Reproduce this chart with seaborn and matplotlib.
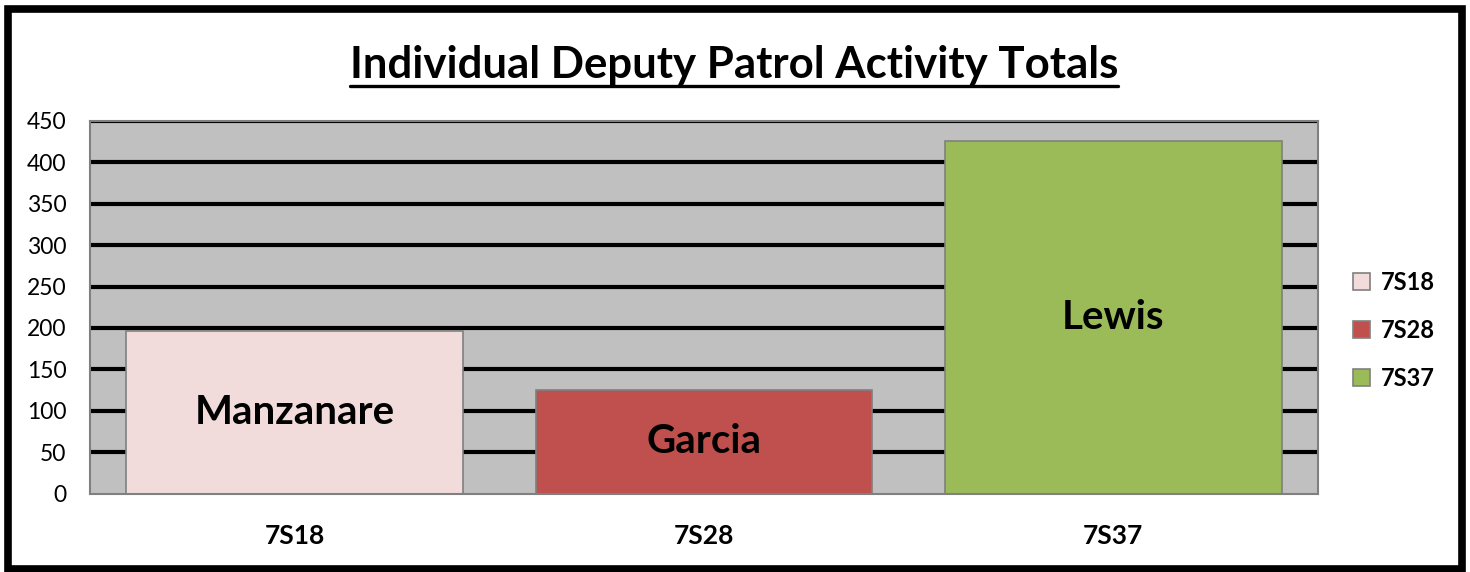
import matplotlib
matplotlib.use("Agg")
import matplotlib.pyplot as plt
import seaborn as sns
import pandas as pd
from matplotlib.patches import Rectangle
from matplotlib.lines import Line2D

categories = ["7S18", "7S28", "7S37"]
values = [196, 125, 426]
names = ["Manzanare", "Garcia", "Lewis"]
colors = ["#F2DCDB", "#C0504D", "#9BBB59"]
yticks = [0, 50, 100, 150, 200, 250, 300, 350, 400, 450]

sns.set_theme(style="white")
plt.rcParams["font.family"] = ["Lato", "DejaVu Sans"]
plt.rcParams["text.color"] = "black"

df = pd.DataFrame({"unit": categories, "total": values})

fig = plt.figure(figsize=(14.7, 5.72), dpi=100)
ax = fig.add_axes([0.0612, 0.1372, 0.8354, 0.6513])
ax.set_facecolor("#C0C0C0")

sns.barplot(data=df, x="unit", y="total", hue="unit", palette=colors,
            saturation=1, dodge=False, width=0.823, edgecolor="#808080",
            linewidth=1.2, ax=ax, zorder=3, legend=True)

ax.set_ylim(0, 450)
ax.set_yticks(yticks)
ax.set_xlim(-0.5, 2.5)
for t in yticks[1:]:
    ax.axhline(t, color="black", linewidth=3.0, zorder=1)

for s in ax.spines.values():
    s.set_color("#808080")
    s.set_linewidth(1.5)
    s.set_zorder(4)

ax.tick_params(axis="y", length=0, pad=17, labelsize=16.5, colors="black")
ax.tick_params(axis="x", length=0, pad=22, labelsize=19, colors="black")
for lbl in ax.get_xticklabels():
    lbl.set_fontweight("bold")
ax.set_xlabel("")
ax.set_ylabel("")

for i, (v, n) in enumerate(zip(values, names)):
    ax.text(i, v / 2, n, ha="center", va="center", fontsize=29,
            fontweight="bold", color="black", zorder=5)

leg = ax.legend(loc="center left", bbox_to_anchor=(1.011, 0.438), frameon=False,
                handlelength=0.75, handleheight=0.75, handletextpad=0.45,
                labelspacing=1.05, prop={"weight": "bold", "size": 17})
for h in leg.legend_handles:
    h.set_edgecolor("#808080")
    h.set_linewidth(1.2)
for t in leg.get_texts():
    t.set_color("black")

title = fig.text(0.4993, 0.886, "Individual Deputy Patrol Activity Totals",
                 ha="center", va="center", fontsize=31.5, fontweight="bold",
                 color="black")

fig.canvas.draw()
bb = title.get_window_extent().transformed(fig.transFigure.inverted())
fig.add_artist(Line2D([bb.x0, bb.x1], [bb.y0 - 0.002, bb.y0 - 0.002],
                      transform=fig.transFigure, color="black", linewidth=2.4))

fig.add_artist(Rectangle((0.0055, 0.0055), 0.989, 0.978, transform=fig.transFigure,
                         fill=False, edgecolor="black", linewidth=5.5))

fig.savefig("out.png", dpi=100)
